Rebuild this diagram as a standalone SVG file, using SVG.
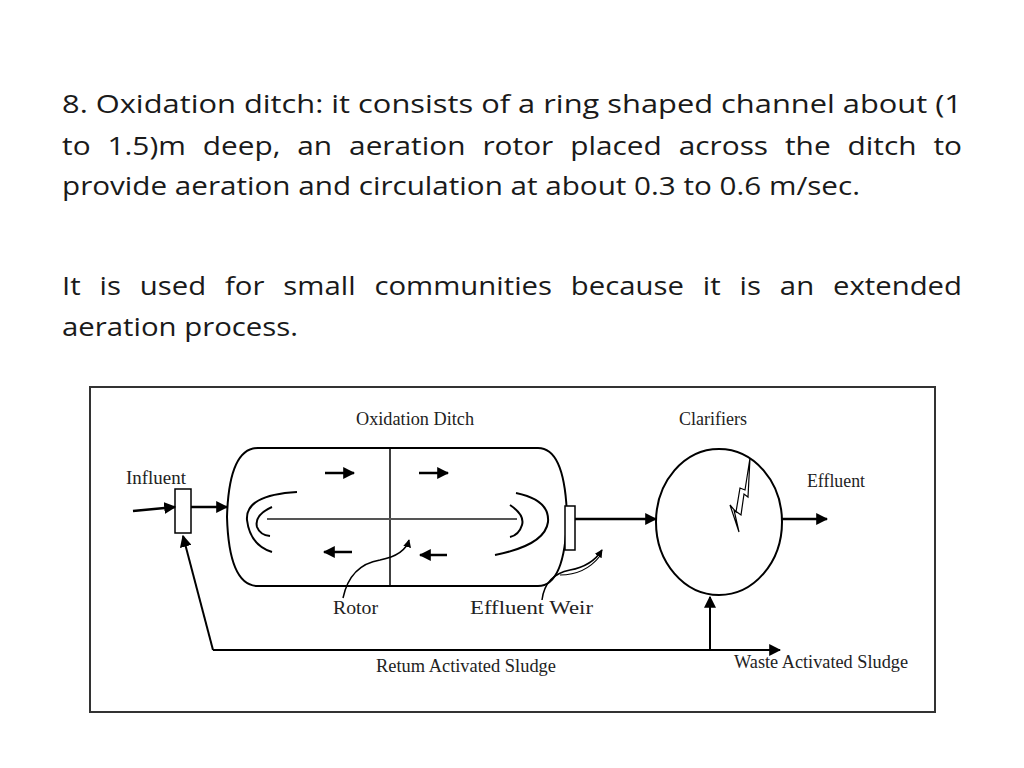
<svg xmlns="http://www.w3.org/2000/svg" width="1024" height="768" viewBox="0 0 1024 768">
<defs>
<marker id="ah" viewBox="0 0 10 10" refX="9" refY="5" markerWidth="8" markerHeight="8" markerUnits="userSpaceOnUse" orient="auto"><path d="M0,0 L10,5 L0,10 z" fill="#000"/></marker>
<marker id="ah2" viewBox="0 0 10 10" refX="9" refY="5" markerWidth="12" markerHeight="12" markerUnits="userSpaceOnUse" orient="auto"><path d="M0,0 L10,5 L0,10 z" fill="#000"/></marker>
</defs>
<style>
.t{font-family:"Open Sans","Liberation Sans",sans-serif;font-size:26px;fill:#1a1a1a}
.l{font-family:"Liberation Serif",serif;font-size:19px;fill:#222}
.s{fill:none;stroke:#000;stroke-width:2}
.a{fill:none;stroke:#000;stroke-width:2.5;marker-end:url(#ah2)}
.f{fill:none;stroke:#000;stroke-width:1.5;marker-end:url(#ah)}
</style>
<rect width="1024" height="768" fill="#fff"/>
<text class="t" x="62" y="113" textLength="900" lengthAdjust="spacingAndGlyphs">8. Oxidation ditch: it consists of a ring shaped channel about (1</text>
<text class="t" x="62" y="155" textLength="900" lengthAdjust="spacingAndGlyphs" word-spacing="8">to 1.5)m  deep, an aeration rotor placed across the ditch to</text>
<text class="t" x="62" y="195" textLength="798" lengthAdjust="spacingAndGlyphs">provide aeration and circulation at about 0.3 to 0.6 m/sec.</text>
<text class="t" x="62" y="295" textLength="900" lengthAdjust="spacingAndGlyphs" word-spacing="10">It is  used for small communities because it is an extended</text>
<text class="t" x="62" y="336" textLength="236" lengthAdjust="spacingAndGlyphs">aeration process.</text>
<rect x="90" y="387" width="845" height="325" fill="none" stroke="#333" stroke-width="2"/>
<g id="ditch">
<path class="s" d="M258,448 L538,448 Q565,448 567,517 Q565,586 538,586 L258,586 Q229,586 227,517 Q229,448 258,448 z"/>
<line x1="390" y1="448" x2="390" y2="586" stroke="#000" stroke-width="1.5"/>
<line x1="267" y1="519" x2="517" y2="519" stroke="#555" stroke-width="2"/>
<path class="s" d="M297,492 Q245,495 247,520 Q250,545 272,552"/>
<path class="s" d="M272,507 Q254,515 257,527 Q260,535 270,536"/>
<path class="s" d="M516,493 Q550,500 548,522 Q545,545 495,555"/>
<path class="s" d="M510,505 Q525,515 522,525 Q519,535 510,537"/>
<line class="a" x1="325" y1="473" x2="354" y2="473"/>
<line class="a" x1="419" y1="473" x2="448" y2="473"/>
<line class="a" x1="352" y1="552" x2="324" y2="552"/>
<line class="a" x1="447" y1="555" x2="420" y2="555"/>
<text class="l" x="356" y="425" textLength="118" lengthAdjust="spacingAndGlyphs">Oxidation Ditch</text>
<text class="l" x="333" y="614" textLength="45" lengthAdjust="spacingAndGlyphs">Rotor</text>
<text class="l" x="470" y="614" textLength="123" lengthAdjust="spacingAndGlyphs">Effluent Weir</text>
</g>
<g id="inlet"><rect x="175" y="489" width="16" height="44" fill="#fff" stroke="#000" stroke-width="1.5"/><text class="l" x="126" y="484" textLength="60" lengthAdjust="spacingAndGlyphs">Influent</text></g>
<g id="weir"><rect x="565" y="506" width="10" height="44" fill="#fff" stroke="#000" stroke-width="1.5"/></g>
<g id="clarifier">
<ellipse class="s" cx="719" cy="522" rx="63" ry="73"/>
<polyline fill="none" stroke="#000" stroke-width="1.2" points="750,458 745,490 740,488 736,512 730,505 739,532 734,510 741,515 744,494 748,497 750,458"/>
<text class="l" x="679" y="425" textLength="68" lengthAdjust="spacingAndGlyphs">Clarifiers</text>
<text class="l" x="807" y="487" textLength="58" lengthAdjust="spacingAndGlyphs">Effluent</text>
<text class="l" x="734" y="668" textLength="174" lengthAdjust="spacingAndGlyphs">Waste Activated Sludge</text>
</g>
<g id="connectors">
<line class="a" x1="133" y1="511" x2="175" y2="507"/>
<line class="a" x1="191" y1="507" x2="227" y2="507"/>
<line class="a" x1="575" y1="519" x2="656" y2="519"/>
<line class="a" x1="782" y1="519" x2="827" y2="519"/>
<polyline class="s" points="213,650 780,650" marker-end="url(#ah2)"/>
<line class="s" x1="213" y1="650" x2="183" y2="536" marker-end="url(#ah2)"/>
<line class="s" x1="710" y1="650" x2="710" y2="597" marker-end="url(#ah2)"/>
<path class="f" d="M343,598 Q350,565 380,560 Q405,555 409,540"/>
<path class="f" d="M542,600 Q545,575 570,570 Q592,566 602,550"/>
<path fill="none" stroke="#000" stroke-width="1.2" d="M560,575 Q585,575 600,556"/>
<text class="l" x="376" y="672" textLength="180" lengthAdjust="spacingAndGlyphs">Retum Activated Sludge</text>
</g>
</svg>
